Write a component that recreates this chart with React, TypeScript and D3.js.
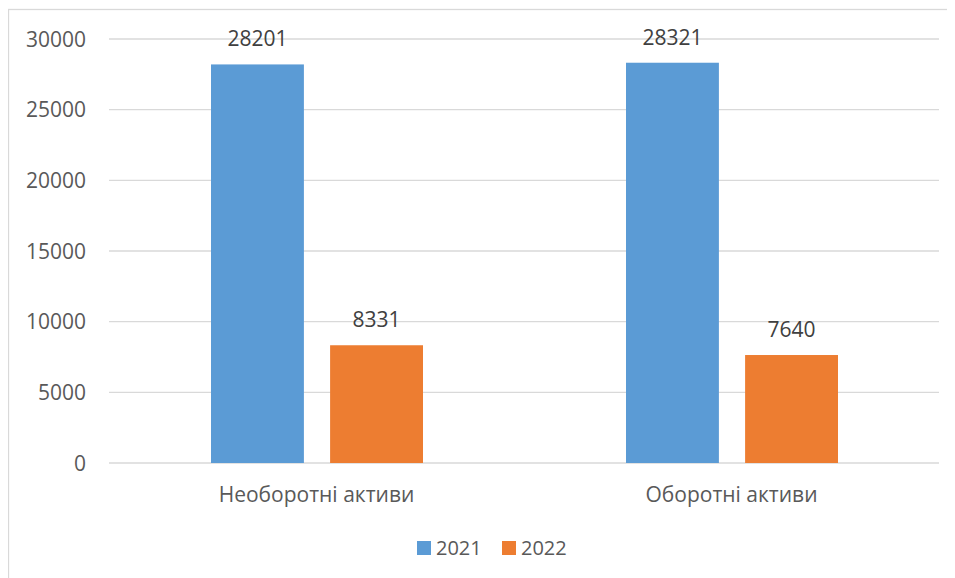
import React, { useEffect, useRef } from 'react';
import * as d3 from 'd3';

const categories = ['Необоротні активи', 'Оборотні активи'];
const series = ['2021', '2022'];
const values2021 = [28201, 28321];
const values2022 = [8331, 7640];
const yTicks = [0, 5000, 10000, 15000, 20000, 25000, 30000];
const colors = ['#5b9bd5', '#ed7d31'];

const App: React.FC = () => {
  const svgRef = useRef<SVGSVGElement>(null);

  useEffect(() => {
    if (!svgRef.current) return;
    const svg = d3.select(svgRef.current);
    svg.selectAll('*').remove();

    // page coordinates, the svg sits at the body margin
    const g = svg.append('g').attr('transform', 'translate(-8,-8)');
    const font = '"Open Sans", sans-serif';
    const textColor = '#595959';
    const fs = 21;

    // outer chart frame (runs past the window on right and bottom)
    g.append('rect')
      .attr('x', 8.5).attr('y', 9.5)
      .attr('width', 1000).attr('height', 600)
      .attr('fill', '#fff')
      .attr('stroke', '#d9d9d9').attr('stroke-width', 1.3);

    const x0 = d3.scaleBand<string>().domain(categories).range([109, 939]);
    const x1 = d3.scaleBand<string>().domain(series).range([102, 314]).paddingInner(0.22);
    const y = d3.scaleLinear().domain([0, 30000]).range([463, 39]);

    const grid = g.append('g');
    grid.selectAll('line')
      .data(yTicks)
      .join('line')
      .attr('x1', 109).attr('x2', 939)
      .attr('y1', d => y(d)).attr('y2', d => y(d))
      .attr('stroke', '#d9d9d9').attr('stroke-width', 1.3);

    grid.selectAll('text')
      .data(yTicks)
      .join('text')
      .attr('x', 86)
      .attr('y', d => y(d) + 7.5)
      .attr('text-anchor', 'end')
      .attr('font-family', font).attr('font-size', fs)
      .attr('fill', textColor)
      .text(d => String(d));

    const rows = categories.map((c, i) => ({ cat: c, vals: [values2021[i], values2022[i]] }));

    const groups = g.selectAll('g.cat')
      .data(rows)
      .join('g')
      .attr('class', 'cat')
      .attr('transform', d => `translate(${x0(d.cat)},0)`);

    const bars = groups.selectAll('g.bar')
      .data(d => d.vals.map((v, j) => ({ s: series[j], v, j })))
      .join('g')
      .attr('class', 'bar');

    bars.append('rect')
      .attr('x', d => x1(d.s)!)
      .attr('width', x1.bandwidth())
      .attr('y', d => y(d.v))
      .attr('height', d => y(0) - y(d.v))
      .attr('fill', d => colors[d.j]);

    bars.append('text')
      .attr('x', d => x1(d.s)! + x1.bandwidth() / 2)
      .attr('y', d => y(d.v) - 18)
      .attr('text-anchor', 'middle')
      .attr('font-family', font).attr('font-size', fs)
      .attr('fill', '#404040')
      .text(d => String(d.v));

    g.selectAll('text.cat-label')
      .data(categories)
      .join('text')
      .attr('class', 'cat-label')
      .attr('x', d => x0(d)! + x0.bandwidth() / 2)
      .attr('y', 502)
      .attr('text-anchor', 'middle')
      .attr('font-family', font).attr('font-size', fs)
      .attr('fill', textColor)
      .text(d => d);

    // legend
    const legendX = [417, 502];
    const legend = g.selectAll('g.legend')
      .data(series)
      .join('g')
      .attr('class', 'legend')
      .attr('transform', (d, i) => `translate(${legendX[i]},541)`);
    legend.append('rect')
      .attr('width', 14).attr('height', 14)
      .attr('fill', (d, i) => colors[i]);
    legend.append('text')
      .attr('x', 19).attr('y', 14)
      .attr('font-family', font).attr('font-size', 20)
      .attr('fill', textColor)
      .text(d => d);
  }, []);

  return <svg ref={svgRef} width={947} height={570} style={{ display: 'block', overflow: 'hidden' }} />;
};

export default App;
